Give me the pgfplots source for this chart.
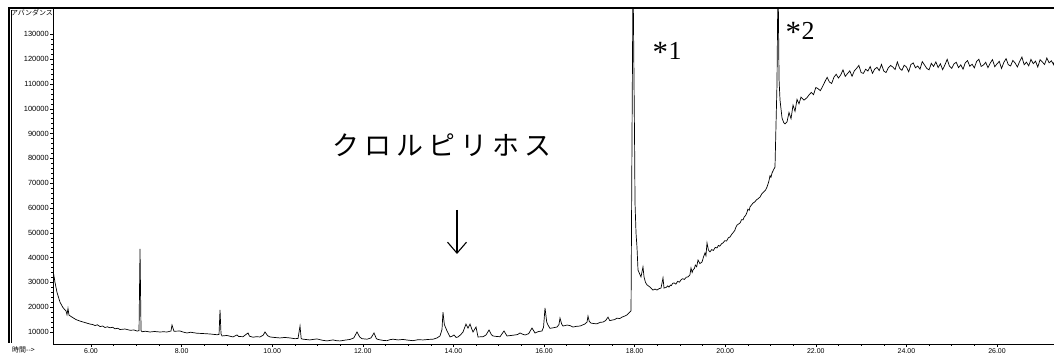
\documentclass[border=0pt]{standalone}
\usepackage{fontspec}
\setmainfont{Liberation Sans}
\newfontfamily\jp{Noto Sans CJK JP}
\newfontfamily\ser{Liberation Serif}
\usepackage{pgfplots}
\pgfplotsset{compat=1.18}
\usetikzlibrary{arrows.meta}
\newcommand\bigast{{\fontsize{31}{31}\selectfont\raisebox{-2.5bp}{*}}\hspace{0.5bp}}
\begin{document}
\begin{tikzpicture}
\begin{axis}[
  at={(53bp,11bp)}, anchor=south west,
  width=1001bp, height=336bp, scale only axis,
  xmin=5.161, xmax=27.258, ymin=5160, ymax=140640,
  axis x line=bottom, axis y line=left,
  axis line style={-, line width=0.8bp, black},
  xtick={6,8,...,26}, minor x tick num=3,
  ytick={10000,20000,...,130000}, minor y tick num=4,
  tick align=outside,
  major tick length=3bp, minor tick length=1.8bp,
  tick style={black, line width=0.5bp},
  /pgf/number format/assume math mode=true,
  xticklabel style={font=\fontsize{7}{7}\selectfont, inner sep=0pt, yshift=-1.5bp,
    /pgf/number format/.cd, fixed, fixed zerofill, precision=2},
  yticklabel style={font=\fontsize{7.5}{7.5}\selectfont, inner sep=0pt, xshift=-1bp,
    /pgf/number format/.cd, fixed, 1000 sep={}},
  scaled y ticks=false, scaled x ticks=false,
  clip=true,
]
\addplot[black, line width=0.7bp] coordinates {
(5.161,35000)(5.205,30000)(5.249,26000)(5.316,22000)(5.382,19800)(5.448,18500)(5.470,17000)
(5.492,19500)(5.514,16800)(5.581,16000)(5.669,15000)(5.757,14400)(5.868,13800)(5.978,13200)
(6.040,13000)(6.088,12600)(6.140,12900)(6.199,12200)(6.260,12400)(6.309,11800)(6.360,12100)
(6.419,11700)(6.480,11900)(6.530,11300)(6.590,11500)(6.640,11000)(6.751,11200)(6.861,10700)
(6.950,10800)(7.015,10400)(7.060,10500)(7.082,43500)(7.104,10600)(7.126,10100)(7.200,10300)
(7.302,10000)(7.400,10200)(7.523,10000)(7.600,10100)(7.678,10000)(7.766,10400)(7.788,12800)
(7.832,10300)(7.965,10400)(8.050,9900)(8.119,9600)(8.200,9900)(8.340,9500)(8.450,9400)
(8.627,9200)(8.781,8900)(8.826,9000)(8.848,18900)(8.870,9200)(8.892,8400)(9.000,8600)
(9.135,8000)(9.223,8800)(9.260,8200)(9.355,8100)(9.466,9600)(9.500,8300)(9.576,7900)
(9.650,8100)(9.731,8000)(9.800,8700)(9.841,10000)(9.900,8500)(9.951,8000)(10.05,7800)
(10.172,7600)(10.280,7800)(10.393,7600)(10.500,7300)(10.570,7400)(10.614,12400)(10.640,7300)
(10.680,7100)(10.834,6800)(10.900,7000)(10.989,7200)(11.100,6700)(11.210,6400)(11.342,6800)
(11.420,6500)(11.497,6400)(11.600,6700)(11.717,7000)(11.800,7600)(11.872,10000)(11.930,8000)
(11.982,7300)(12.093,7100)(12.180,7600)(12.247,9600)(12.300,7300)(12.336,7000)(12.450,6600)
(12.534,6500)(12.600,6900)(12.667,7100)(12.780,6800)(12.887,7000)(13.000,6700)(13.108,6500)
(13.220,6900)(13.329,6800)(13.450,7000)(13.550,7100)(13.638,7600)(13.704,8400)(13.748,11000)
(13.770,18000)(13.800,13000)(13.859,10400)(13.925,8000)(13.970,8300)(14.013,8800)(14.060,7800)
(14.102,8000)(14.160,8900)(14.212,10000)(14.278,13200)(14.322,11600)(14.367,13200)(14.410,11000)
(14.433,10000)(14.499,12000)(14.543,8000)(14.654,8100)(14.720,8800)(14.786,10800)(14.840,8900)
(14.874,8400)(14.950,8200)(15.029,8100)(15.117,10400)(15.183,8400)(15.270,8600)(15.360,8800)
(15.420,9000)(15.470,9600)(15.530,9100)(15.581,8800)(15.660,9300)(15.735,11600)(15.801,9600)
(15.880,10200)(15.956,10400)(15.990,12000)(16.022,19700)(16.060,14000)(16.088,12800)(16.130,11500)
(16.177,11600)(16.287,12000)(16.330,13000)(16.353,15600)(16.390,13200)(16.419,12400)(16.508,12800)
(16.570,12600)(16.640,12000)(16.720,12300)(16.795,12400)(16.900,13200)(16.950,14000)(16.971,16400)
(17.000,14200)(17.038,13600)(17.100,13400)(17.170,13300)(17.240,13900)(17.302,14000)(17.360,14600)
(17.413,16000)(17.450,14600)(17.501,14800)(17.560,15000)(17.611,15600)(17.670,15400)(17.722,16000)
(17.780,16400)(17.832,16900)(17.876,17700)(17.921,18500)(17.943,90000)(17.965,155000)(17.987,111000)
(18.000,85000)(18.009,62000)(18.031,50000)(18.053,44000)(18.075,35000)(18.110,33500)(18.141,32200)
(18.185,36200)(18.208,32200)(18.240,30000)(18.274,29000)(18.340,28100)(18.406,26900)(18.450,27300)
(18.494,26900)(18.540,27500)(18.583,27700)(18.627,31800)(18.649,27700)
(18.700,28000)(18.730,28600)(18.759,28100)(18.790,28900)(18.810,28700)(18.840,29600)(18.870,29800)
(18.910,29300)(18.950,30400)(18.990,30100)(19.024,31000)(19.060,31500)(19.100,31200)(19.140,32100)
(19.179,32200)(19.220,33000)(19.245,35800)(19.270,34000)(19.289,35000)(19.320,35600)(19.340,37000)
(19.370,36300)(19.400,39000)(19.440,37600)(19.488,38200)(19.520,40200)(19.554,41900)(19.575,40800)
(19.598,45900)(19.630,43000)(19.664,42300)(19.700,43200)(19.740,42900)(19.780,44100)(19.819,43900)
(19.850,44900)(19.880,44600)(19.920,45600)(19.951,45900)(19.990,46800)(20.030,46700)(20.070,48000)
(20.106,48300)(20.140,49300)(20.180,50200)(20.210,50900)(20.230,52000)(20.260,53100)(20.300,53600)
(20.330,54000)(20.360,55300)(20.393,55200)(20.420,56400)(20.450,57000)(20.480,58200)(20.500,59500)
(20.530,59100)(20.547,60400)(20.580,61200)(20.614,62000)(20.650,62400)(20.690,63300)(20.730,63800)
(20.768,64400)(20.810,65800)(20.850,66500)(20.890,67200)(20.923,68500)(20.960,70500)(20.989,73000)
(21.010,72400)(21.033,74100)(21.070,75500)
(21.099,76500)(21.143,110000)(21.166,155000)(21.188,112000)(21.210,103500)(21.254,96300)(21.290,94500)
(21.320,93900)(21.364,94700)(21.408,98500)(21.453,96000)(21.497,101500)(21.541,99000)(21.585,103800)
(21.629,102000)(21.673,104700)(21.740,103500)(21.806,104500)(21.850,105600)
(21.90,106600)(21.95,105700)(22.00,108600)(22.05,108100)(22.10,107300)(22.15,109000)(22.20,110900)
(22.25,112700)(22.30,110800)(22.35,110200)(22.40,112700)(22.45,113900)(22.50,112400)(22.55,113650)
(22.60,115700)(22.65,113050)(22.70,114200)(22.75,115300)(22.80,113100)(22.85,115300)(22.90,116300)
(22.95,117500)(23.00,114600)(23.05,114280)(23.10,115950)(23.15,115230)(23.20,117000)(23.25,114300)
(23.30,116000)(23.35,116700)(23.40,115400)(23.45,117900)(23.50,115200)(23.55,114600)(23.60,116500)
(23.65,117480)(23.70,116850)(23.75,115830)(23.80,118900)(23.85,116350)(23.90,115500)(23.95,117550)
(24.00,116900)(24.05,114930)(24.10,117860)(24.15,118490)(24.20,116520)(24.25,117250)(24.30,115980)
(24.35,119010)(24.40,117640)(24.45,116270)(24.50,115700)(24.55,118330)(24.60,117060)(24.65,118890)
(24.70,116620)(24.75,118150)(24.80,115780)(24.85,117710)(24.90,119940)(24.95,117170)(25.00,116300)
(25.05,118130)(25.10,118760)(25.15,116590)(25.20,117720)(25.25,115950)(25.30,118580)(25.35,119410)
(25.40,117140)(25.45,117970)(25.50,116500)(25.55,119130)(25.60,119960)(25.65,117090)(25.70,117620)
(25.75,118750)(25.80,116580)(25.85,118410)(25.90,119840)(25.95,116970)(26.00,118100)(26.05,119130)
(26.10,116260)(26.15,118690)(26.20,120220)(26.25,117750)(26.30,117280)(26.35,119510)(26.40,118440)
(26.45,116870)(26.50,119100)(26.55,120830)(26.60,117760)(26.65,118790)(26.70,117320)(26.75,119950)
(26.80,118180)(26.85,119210)(26.90,116840)(26.95,119770)(27.00,118900)(27.05,117840)(27.10,120480)
(27.15,118520)(27.20,119360)(27.25,117790)(27.258,118800)
};
\end{axis}
% outer frame
\draw[line width=1.4bp] (9bp,12bp) -- (9bp,347bp) -- (1054bp,347bp);
\draw[line width=0.5bp] (11.5bp,12bp) -- (11.5bp,345bp);
% labels
\node[font=\jp\fontsize{7}{7}\selectfont, inner sep=0pt] at (32bp,342bp) {アバンダンス};
\node[font=\jp\fontsize{7}{7}\selectfont, inner sep=0pt, anchor=west] at (12bp,5bp) {時間-->};
\node[font=\jp\fontsize{27}{27}\selectfont, inner sep=0pt] at (442bp,210bp)
  {ク\hspace{5bp}ロ\hspace{5bp}ル\hspace{5bp}ピ\hspace{5bp}リ\hspace{5bp}ホ\hspace{5bp}ス};
\draw[line width=1.1bp, -{Straight Barb[length=11bp,width=19bp]}] (457bp,145bp) -- (457bp,101bp);
\node[font=\ser\fontsize{26}{26}\selectfont, inner sep=0pt] at (667bp,303bp) {\bigast 1};
\node[font=\ser\fontsize{26}{26}\selectfont, inner sep=0pt] at (800bp,323bp) {\bigast 2};
\pgfresetboundingbox
\path (0,0) rectangle (1054bp,355bp);
\end{tikzpicture}
\end{document}
